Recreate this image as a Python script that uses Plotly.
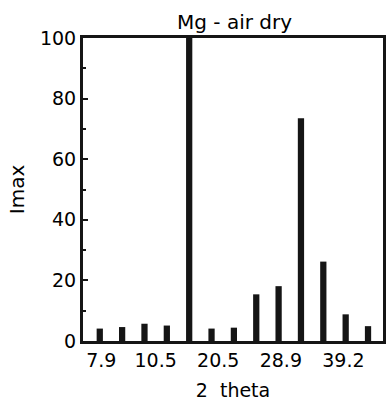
import plotly.graph_objects as go

# Data
bar_index = list(range(13))
imax = [4.1, 4.6, 5.7, 5.1, 100, 4.1, 4.4, 15.4, 18.1, 73.5, 26.2, 8.8, 4.9]
tick_pos = [0.07, 2.5, 5.3, 8.1, 10.9]
tick_labels = ["7.9", "10.5", "20.5", "28.9", "39.2"]

FONT = "DejaVu Sans, Verdana, sans-serif"
INK = "#151515"

fig = go.Figure(
    go.Bar(
        x=bar_index,
        y=imax,
        width=0.28,
        marker=dict(color=INK, line=dict(width=0)),
    )
)

fig.update_layout(
    width=389,
    height=408,
    margin=dict(l=83, r=3, t=38, b=67),
    paper_bgcolor="white",
    plot_bgcolor="white",
    showlegend=False,
    font=dict(family=FONT, size=19, color="black"),
    title=dict(
        text="Mg - air dry",
        x=0.603,
        xanchor="center",
        y=0.947,
        yanchor="middle",
        font=dict(family=FONT, size=20, color="black"),
    ),
)

fig.update_xaxes(
    range=[-0.75, 12.67],
    tickmode="array",
    tickvals=tick_pos,
    ticktext=tick_labels,
    ticks="",
    showgrid=False,
    zeroline=False,
    showline=True,
    linecolor=INK,
    linewidth=3,
    mirror=True,
    tickfont=dict(family=FONT, size=19, color="black"),
    title=dict(text="2  theta", font=dict(family=FONT, size=19, color="black"), standoff=14),
)

fig.update_yaxes(
    range=[0, 100],
    tickmode="array",
    tickvals=[0, 20, 40, 60, 80, 100],
    ticks="inside",
    ticklen=5,
    tickwidth=2,
    tickcolor=INK,
    minor=dict(ticks="inside", ticklen=3, tickwidth=1.5, tickcolor=INK, dtick=10, tick0=0),
    showgrid=False,
    zeroline=False,
    showline=True,
    linecolor=INK,
    linewidth=3,
    mirror=True,
    tickfont=dict(family=FONT, size=19, color="black"),
    title=dict(text="Imax", font=dict(family=FONT, size=20, color="black"), standoff=10),
)

fig.write_html("out.html")
